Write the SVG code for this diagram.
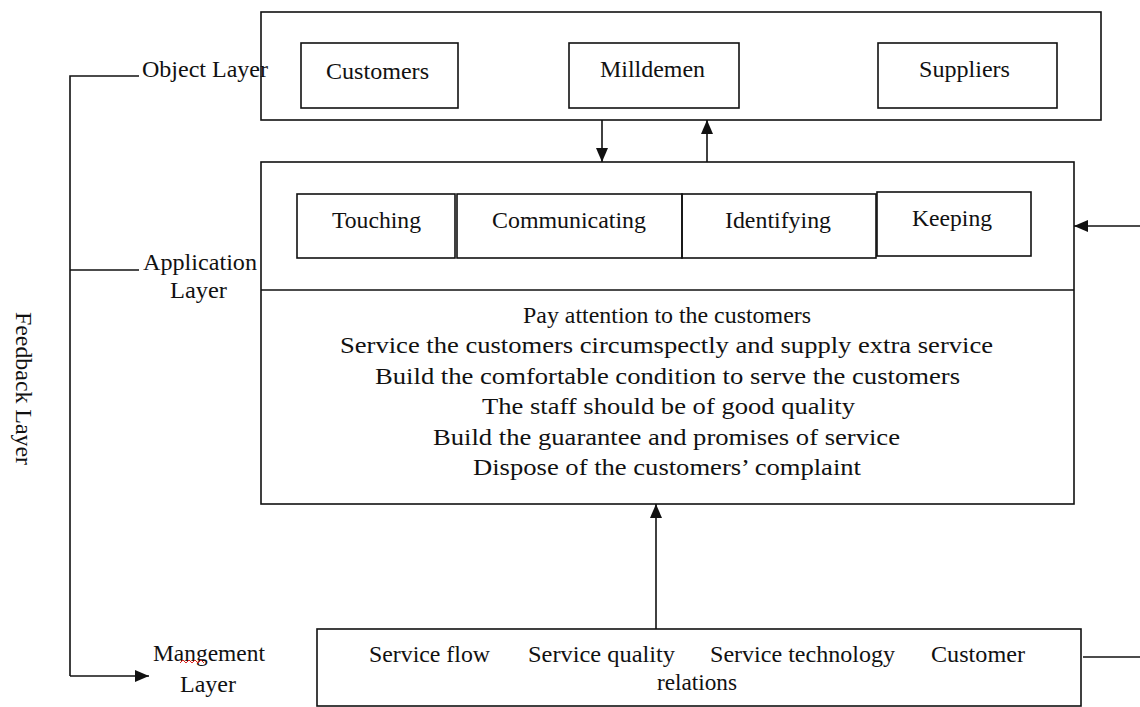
<svg xmlns="http://www.w3.org/2000/svg" width="1140" height="707" viewBox="0 0 1140 707">
<style>
.b{fill:none;stroke:#111;stroke-width:1.6}
.l{fill:none;stroke:#111;stroke-width:1.6}
.t{font-family:"Liberation Serif","Times New Roman",serif;font-size:24px;fill:#111}
</style>
<defs>
<marker id="ah" viewBox="0 0 14 12" refX="14" refY="6" markerWidth="14" markerHeight="12" markerUnits="userSpaceOnUse" orient="auto">
<path d="M0,0 L14,6 L0,12 Z" fill="#111"/>
</marker>
</defs>
<rect width="1140" height="707" fill="#fff"/>

<g id="object-layer">
<rect class="b" x="261" y="12" width="840" height="108"/>
<text class="t" x="142" y="77" textLength="126" lengthAdjust="spacingAndGlyphs">Object Layer</text>
</g>
<g id="customers">
<rect class="b" x="301" y="43" width="157" height="65"/>
<text class="t" x="326" y="79" textLength="103" lengthAdjust="spacingAndGlyphs">Customers</text>
</g>
<g id="milldemen">
<rect class="b" x="569" y="43" width="170" height="65"/>
<text class="t" x="600" y="77" textLength="105" lengthAdjust="spacingAndGlyphs">Milldemen</text>
</g>
<g id="suppliers">
<rect class="b" x="878" y="43" width="179" height="65"/>
<text class="t" x="919" y="77" textLength="91" lengthAdjust="spacingAndGlyphs">Suppliers</text>
</g>

<g id="application-layer">
<rect class="b" x="261" y="162" width="813" height="342"/>
<line class="l" x1="261" y1="290" x2="1074" y2="290"/>
<text class="t" x="143" y="270" textLength="114" lengthAdjust="spacingAndGlyphs">Application</text>
<text class="t" x="170" y="298" textLength="57" lengthAdjust="spacingAndGlyphs">Layer</text>
<text class="t" x="523" y="323" textLength="288" lengthAdjust="spacingAndGlyphs">Pay attention to the customers</text>
<text class="t" x="340" y="353" textLength="653" lengthAdjust="spacingAndGlyphs">Service the customers circumspectly and supply extra service</text>
<text class="t" x="375" y="384" textLength="585" lengthAdjust="spacingAndGlyphs">Build the comfortable condition to serve the customers</text>
<text class="t" x="482" y="414" textLength="373" lengthAdjust="spacingAndGlyphs">The staff should be of good quality</text>
<text class="t" x="433" y="445" textLength="467" lengthAdjust="spacingAndGlyphs">Build the guarantee and promises of service</text>
<text class="t" x="473" y="475" textLength="388" lengthAdjust="spacingAndGlyphs">Dispose of the customers’ complaint</text>
</g>
<g id="touching">
<rect class="b" x="297" y="194" width="158" height="64"/>
<text class="t" x="332" y="228" textLength="89" lengthAdjust="spacingAndGlyphs">Touching</text>
</g>
<g id="communicating">
<rect class="b" x="457" y="194" width="225" height="64"/>
<text class="t" x="492" y="228" textLength="154" lengthAdjust="spacingAndGlyphs">Communicating</text>
</g>
<g id="identifying">
<rect class="b" x="682" y="194" width="194" height="64"/>
<text class="t" x="725" y="228" textLength="106" lengthAdjust="spacingAndGlyphs">Identifying</text>
</g>
<g id="keeping">
<rect class="b" x="877" y="192" width="154" height="64"/>
<text class="t" x="912" y="226" textLength="80" lengthAdjust="spacingAndGlyphs">Keeping</text>
</g>

<g id="management-layer">
<rect class="b" x="317" y="629" width="764" height="77"/>
<text class="t" x="153" y="661" textLength="112" lengthAdjust="spacingAndGlyphs">Mangement</text>
<path d="M180,663 l3,-3 l3,3 l3,-3 l3,3 l3,-3 l3,3 l3,-3 l3,3" fill="none" stroke="#e02020" stroke-width="1"/>
<text class="t" x="180" y="692" textLength="56" lengthAdjust="spacingAndGlyphs">Layer</text>
<text class="t" x="369" y="662" textLength="121" lengthAdjust="spacingAndGlyphs">Service flow</text>
<text class="t" x="528" y="662" textLength="147" lengthAdjust="spacingAndGlyphs">Service quality</text>
<text class="t" x="710" y="662" textLength="185" lengthAdjust="spacingAndGlyphs">Service technology</text>
<text class="t" x="931" y="662" textLength="94" lengthAdjust="spacingAndGlyphs">Customer</text>
<text class="t" x="657" y="690" textLength="80" lengthAdjust="spacingAndGlyphs">relations</text>
</g>

<g id="feedback-layer">
<text class="t" transform="translate(16,312) rotate(90)" textLength="153" lengthAdjust="spacingAndGlyphs">Feedback Layer</text>
</g>

<g id="connectors">
<line class="l" x1="602" y1="120" x2="602" y2="162" marker-end="url(#ah)"/>
<line class="l" x1="707" y1="162" x2="707" y2="120" marker-end="url(#ah)"/>
<line class="l" x1="1140" y1="226" x2="1074" y2="226" marker-end="url(#ah)"/>
<line class="l" x1="656" y1="629" x2="656" y2="504" marker-end="url(#ah)"/>
<line class="l" x1="1083" y1="657" x2="1140" y2="657"/>
<polyline class="l" points="139,76 70,76 70,676"/>
<line class="l" x1="70" y1="270" x2="139" y2="270"/>
<line class="l" x1="70" y1="676" x2="149" y2="676" marker-end="url(#ah)"/>
</g>
</svg>
